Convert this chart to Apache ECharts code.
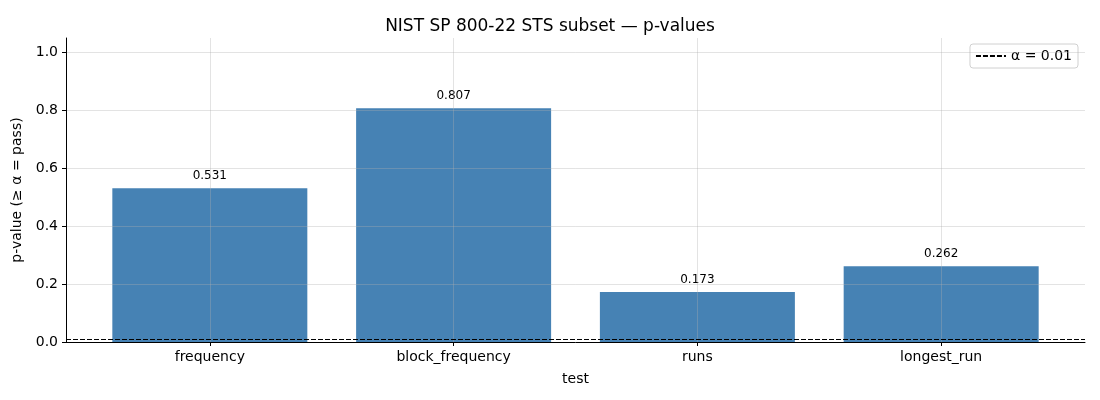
<!DOCTYPE html>
<html lang="en">
<head>
  <meta charset="UTF-8">
  <title>NIST STS p-values</title>
  <style>
    html, body { margin: 0; width: 100%; height: 100%; background: #fff; }
  </style>
</head>
<body>
  <div id="chart" style="width:1100px;height:400px"></div>
  <script src="https://cdn.jsdelivr.net/npm/echarts@6/dist/echarts.min.js"></script>
  <script>
    const tests = ['frequency', 'block_frequency', 'runs', 'longest_run']
    const pValues = [0.531, 0.807, 0.173, 0.262]
    const alpha = 0.01
    const yTicks = [0, 0.2, 0.4, 0.6, 0.8, 1.0]

    const positions = tests.map((t, i) => i)
    const barData = pValues.map((v, i) => [positions[i], v])
    const font = 'DejaVu Sans'
    const gridColor = 'rgba(176,176,176,0.35)'

    const option = {
      animation: false,
      textStyle: { fontFamily: font },
      title: {
        text: 'NIST SP 800-22 STS subset — p-values',
        left: 'center',
        top: 13,
        textStyle: { fontFamily: font, fontSize: 17, fontWeight: 'normal', color: '#000' }
      },
      legend: {
        right: 22,
        top: 44,
        orient: 'vertical',
        data: ['α = 0.01'],
        itemWidth: 30,
        itemHeight: 10,
        itemGap: 6,
        padding: [5, 6, 5, 5],
        borderColor: '#d0d0d0',
        borderWidth: 1,
        borderRadius: 3,
        itemStyle: { opacity: 0 },
        textStyle: { fontFamily: font, fontSize: 14, color: '#000' }
      },
      grid: { left: 66, right: 15, top: 38, bottom: 58 },
      xAxis: {
        type: 'value',
        min: -0.59,
        max: 3.59,
        z: 5,
        name: 'test',
        nameLocation: 'middle',
        nameGap: 30,
        nameTextStyle: { fontFamily: font, fontSize: 14, color: '#000' },
        axisLine: { show: true, onZero: false, lineStyle: { color: '#000', width: 1 } },
        axisTick: { customValues: positions, length: 4, lineStyle: { color: '#000' } },
        axisLabel: {
          customValues: positions,
          formatter: v => tests[Math.round(v)],
          fontFamily: font, fontSize: 14, color: '#000', margin: 8
        },
        splitLine: { show: true, customValues: positions, lineStyle: { color: gridColor, width: 1 } }
      },
      yAxis: {
        type: 'value',
        min: 0,
        max: 1.05,
        z: 5,
        name: 'p-value (≥ α = pass)',
        nameLocation: 'middle',
        nameGap: 38,
        nameTextStyle: { fontFamily: font, fontSize: 14, color: '#000' },
        axisLine: { show: true, onZero: false, lineStyle: { color: '#000', width: 1 } },
        axisTick: { show: true, customValues: yTicks, length: 4, lineStyle: { color: '#000' } },
        axisLabel: {
          customValues: yTicks,
          formatter: v => v.toFixed(1),
          fontFamily: font, fontSize: 14, color: '#000', margin: 8
        },
        splitLine: { show: true, customValues: yTicks, lineStyle: { color: gridColor, width: 1 } }
      },
      series: [{
        type: 'bar',
        name: 'p-value',
        data: barData,
        barWidth: 195,
        itemStyle: { color: '#4682b4' },
        label: {
          show: true,
          position: 'top',
          distance: 6,
          formatter: p => p.value[1].toFixed(3),
          fontFamily: font, fontSize: 12, color: '#000'
        }
      }, {
        type: 'line',
        name: 'α = 0.01',
        data: [],
        symbol: 'none',
        lineStyle: { color: '#000', width: 1.2, type: [5, 2] },
        itemStyle: { color: '#000' },
        markLine: {
          silent: true,
          symbol: ['none', 'none'],
          label: { show: false },
          lineStyle: { color: '#000', width: 1.2, type: [5, 2] },
          data: [{ yAxis: alpha }]
        },
        z: 6
      }]
    }

    const myChart = echarts.init(document.getElementById('chart'))
    myChart.setOption(option)
  </script>
</body>
</html>
